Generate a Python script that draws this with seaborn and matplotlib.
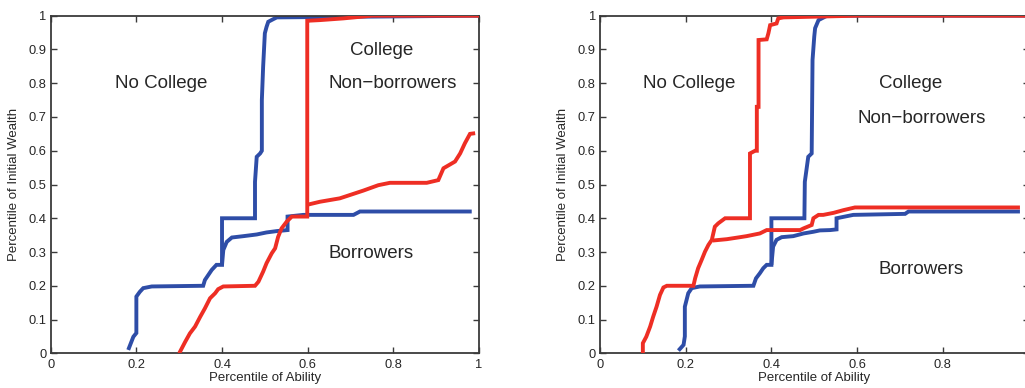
import numpy as np
import pandas as pd
import matplotlib
matplotlib.use("Agg")
import matplotlib.pyplot as plt
import seaborn as sns

# -------------------------------------------------
# data (x = ability pct, y = wealth pct)
# -------------------------------------------------

# left panel
left_blue_upper_x = [0.181, 0.193, 0.200, 0.200, 0.208, 0.216, 0.236, 0.356, 0.360, 0.368,
                     0.376, 0.387, 0.400, 0.400, 0.477, 0.477, 0.481, 0.489, 0.493, 0.493,
                     0.496, 0.500, 0.504, 0.508, 0.520, 0.528, 1.000]
left_blue_upper_y = [0.010, 0.049, 0.060, 0.168, 0.182, 0.193, 0.198, 0.200, 0.217, 0.232,
                     0.247, 0.262, 0.262, 0.400, 0.400, 0.508, 0.582, 0.592, 0.600, 0.750,
                     0.849, 0.948, 0.967, 0.982, 0.990, 0.995, 1.000]

left_blue_lower_x = [0.400, 0.403, 0.411, 0.423, 0.450, 0.481, 0.504, 0.528, 0.553, 0.553,
                     0.590, 0.707, 0.722, 0.983]
left_blue_lower_y = [0.262, 0.306, 0.330, 0.343, 0.347, 0.352, 0.358, 0.362, 0.365, 0.405,
                     0.410, 0.410, 0.420, 0.420]

left_red_upper_x = [0.300, 0.314, 0.325, 0.337, 0.349, 0.360, 0.372, 0.384, 0.391, 0.403,
                    0.477, 0.485, 0.496, 0.504, 0.516, 0.524, 0.531, 0.539, 0.551, 0.563,
                    0.599, 0.599, 0.599, 0.629, 0.683, 0.750, 1.000]
left_red_upper_y = [0.000, 0.034, 0.059, 0.079, 0.108, 0.133, 0.163, 0.178, 0.190, 0.198,
                    0.200, 0.212, 0.242, 0.267, 0.296, 0.311, 0.345, 0.370, 0.390, 0.405,
                    0.405, 0.440, 0.985, 0.987, 0.992, 1.000, 1.000]

left_red_lower_x = [0.599, 0.629, 0.675, 0.699, 0.730, 0.765, 0.792, 0.878, 0.905, 0.917,
                    0.944, 0.956, 0.967, 0.979, 0.991]
left_red_lower_y = [0.440, 0.449, 0.459, 0.469, 0.482, 0.498, 0.505, 0.505, 0.513, 0.548,
                    0.568, 0.592, 0.622, 0.650, 0.652]

# right panel
right_blue_upper_x = [0.183, 0.195, 0.198, 0.198, 0.206, 0.214, 0.233, 0.358, 0.364, 0.373,
                      0.381, 0.389, 0.400, 0.400, 0.477, 0.478, 0.486, 0.494, 0.496, 0.500,
                      0.502, 0.510, 0.530, 1.000]
right_blue_upper_y = [0.008, 0.025, 0.050, 0.138, 0.178, 0.193, 0.198, 0.200, 0.222, 0.237,
                      0.252, 0.262, 0.262, 0.400, 0.400, 0.508, 0.582, 0.592, 0.869, 0.938,
                      0.963, 0.987, 1.000, 1.000]

right_blue_lower_x = [0.400, 0.404, 0.412, 0.424, 0.451, 0.475, 0.498, 0.513, 0.537, 0.552,
                      0.552, 0.591, 0.712, 0.720, 0.980]
right_blue_lower_y = [0.262, 0.316, 0.336, 0.344, 0.347, 0.355, 0.360, 0.364, 0.365, 0.367,
                      0.400, 0.410, 0.413, 0.420, 0.420]

right_red_upper_x = [0.100, 0.100, 0.108, 0.117, 0.124, 0.132, 0.140, 0.148, 0.156, 0.218,
                     0.222, 0.229, 0.237, 0.245, 0.253, 0.261, 0.268, 0.276, 0.292, 0.350,
                     0.350, 0.362, 0.366, 0.366, 0.370, 0.370, 0.389, 0.393, 0.397, 0.412,
                     0.416, 0.428, 0.600, 1.000]
right_red_upper_y = [0.000, 0.030, 0.049, 0.079, 0.108, 0.138, 0.173, 0.195, 0.200, 0.200,
                     0.222, 0.252, 0.276, 0.301, 0.321, 0.336, 0.375, 0.385, 0.400, 0.400,
                     0.592, 0.600, 0.600, 0.730, 0.730, 0.928, 0.930, 0.948, 0.972, 0.977,
                     0.992, 0.995, 1.000, 1.000]

right_red_lower_x = [0.263, 0.296, 0.327, 0.342, 0.373, 0.389, 0.467, 0.475, 0.494, 0.498,
                     0.510, 0.521, 0.545, 0.568, 0.595, 0.980]
right_red_lower_y = [0.334, 0.338, 0.344, 0.347, 0.355, 0.365, 0.365, 0.370, 0.380, 0.400,
                     0.410, 0.410, 0.416, 0.424, 0.432, 0.432]

x_ticks = [0, 0.2, 0.4, 0.6, 0.8, 1]
x_tick_labels = ["0", "0.2", "0.4", "0.6", "0.8", "1"]
y_ticks = [0, 0.1, 0.2, 0.3, 0.4, 0.5, 0.6, 0.7, 0.8, 0.9, 1]
y_tick_labels = ["0", "0.1", "0.2", "0.3", "0.4", "0.5", "0.6", "0.7", "0.8", "0.9", "1"]

BLUE = "#2E4DA7"
RED = "#EE2E24"
TEXT = "#262626"

# -------------------------------------------------
# style
# -------------------------------------------------

sns.set_theme(style="ticks")
plt.rcParams["font.family"] = ["Liberation Sans", "DejaVu Sans"]
plt.rcParams["axes.edgecolor"] = "#3a3a3a"
plt.rcParams["axes.linewidth"] = 1.3
plt.rcParams["text.color"] = TEXT
plt.rcParams["axes.labelcolor"] = TEXT
plt.rcParams["xtick.color"] = "#3a3a3a"
plt.rcParams["ytick.color"] = "#3a3a3a"
plt.rcParams["xtick.labelcolor"] = TEXT
plt.rcParams["ytick.labelcolor"] = TEXT


def draw_line(ax, xs, ys, color, order):
    df = pd.DataFrame({"x": xs, "y": ys})
    sns.lineplot(data=df, x="x", y="y", ax=ax, sort=False, estimator=None,
                 color=color, linewidth=2.8, zorder=order,
                 solid_joinstyle="miter", solid_capstyle="butt")


def style_axes(ax, n_xlabels):
    ax.set_xlim(0, 1)
    ax.set_ylim(0, 1)
    # the right panel runs past the image edge, so its "1" label is not shown
    ax.set_xticks(x_ticks[:n_xlabels])
    ax.set_xticklabels(x_tick_labels[:n_xlabels])
    ax.set_yticks(y_ticks)
    ax.set_yticklabels(y_tick_labels)
    ax.tick_params(direction="in", length=4, width=1.0, top=True, right=True,
                   labelsize=9.3, pad=3)
    ax.tick_params(axis="x", pad=4)
    for sp in ax.spines.values():
        sp.set_visible(True)
    ax.set_xlabel("Percentile of Ability", fontsize=9.5, labelpad=1)
    ax.set_ylabel("Percentile of Initial Wealth", fontsize=9.5, labelpad=6)


fig = plt.figure(figsize=(10.25, 3.88), dpi=100)

ax1 = fig.add_axes([50.7 / 1025, 34.7 / 388, 428.3 / 1025, 337.6 / 388])
ax2 = fig.add_axes([600.0 / 1025, 34.7 / 388, 428.5 / 1025, 337.6 / 388])

# left panel
draw_line(ax1, left_blue_upper_x, left_blue_upper_y, BLUE, 2)
draw_line(ax1, left_blue_lower_x, left_blue_lower_y, BLUE, 2)
draw_line(ax1, left_red_upper_x, left_red_upper_y, RED, 3)
draw_line(ax1, left_red_lower_x, left_red_lower_y, RED, 3)
style_axes(ax1, 6)

txt = dict(fontsize=13.5, color=TEXT, va="center", ha="left")
ax1.text(0.150, 0.798, "No College", **txt)
ax1.text(0.699, 0.896, "College", **txt)
ax1.text(0.648, 0.798, "Non\u2212borrowers", **txt)
ax1.text(0.648, 0.296, "Borrowers", **txt)

# right panel
draw_line(ax2, right_blue_upper_x, right_blue_upper_y, BLUE, 2)
draw_line(ax2, right_blue_lower_x, right_blue_lower_y, BLUE, 2)
draw_line(ax2, right_red_upper_x, right_red_upper_y, RED, 3)
draw_line(ax2, right_red_lower_x, right_red_lower_y, RED, 3)
style_axes(ax2, 5)

ax2.text(0.101, 0.798, "No College", **txt)
ax2.text(0.650, 0.798, "College", **txt)
ax2.text(0.600, 0.696, "Non\u2212borrowers", **txt)
ax2.text(0.650, 0.247, "Borrowers", **txt)

fig.savefig("out.png", dpi=100)
